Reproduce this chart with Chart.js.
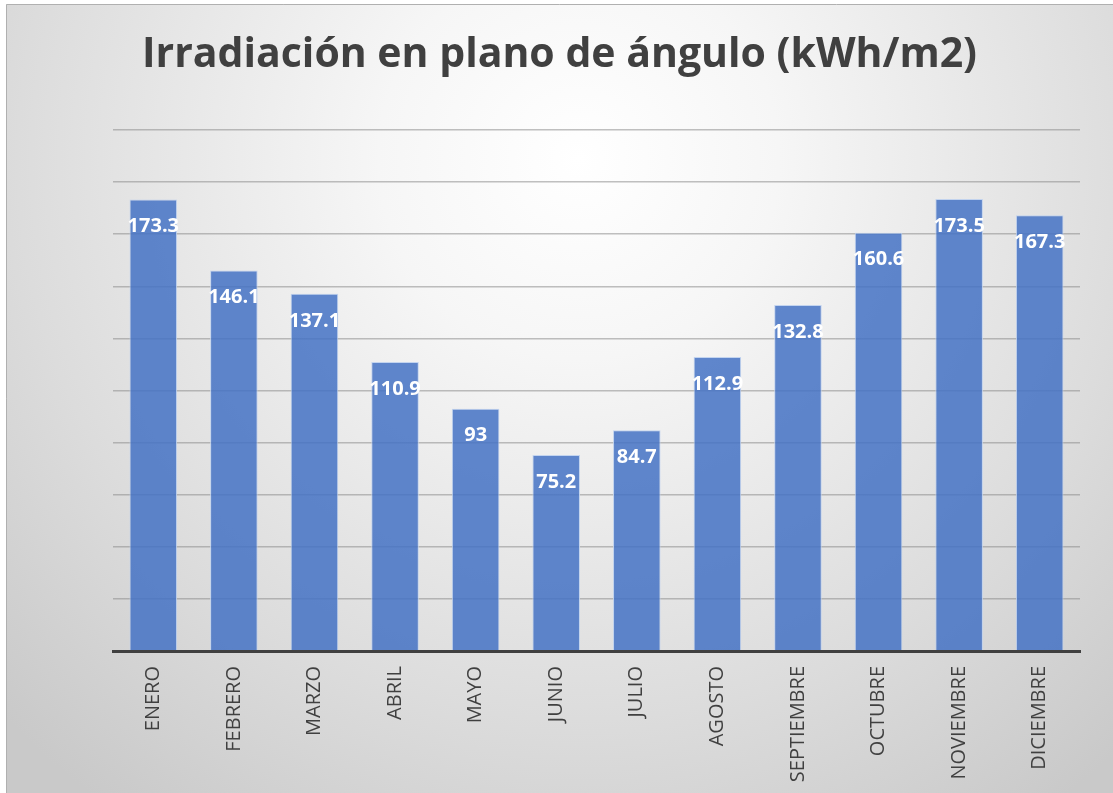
<!DOCTYPE html>
<html lang="es">
<head>
<meta charset="utf-8">
<title>Irradiación en plano de ángulo</title>
<script src="https://cdn.jsdelivr.net/npm/chart.js@4"></script>
<style>
  html, body { margin: 0; padding: 0; background: #ffffff; }
  #wrap { position: relative; width: 1113px; height: 793px; }
  canvas { display: block; }
</style>
</head>
<body>
<div id="wrap"><canvas id="chart" width="1113" height="793"></canvas></div>
<script>
// Monthly irradiation on the tilted plane (kWh/m2)
const months = ['ENERO', 'FEBRERO', 'MARZO', 'ABRIL', 'MAYO', 'JUNIO', 'JULIO',
                'AGOSTO', 'SEPTIEMBRE', 'OCTUBRE', 'NOVIEMBRE', 'DICIEMBRE'];
const irradiation = [173.3, 146.1, 137.1, 110.9, 93, 75.2, 84.7, 112.9, 132.8, 160.6, 173.5, 167.3];
const titleText = 'Irradiación en plano de ángulo (kWh/m2)';
const yMin = 0;
const yMax = 200;
const yStep = 20;

// Soft radial backdrop, thin frame and the centred title
const backdrop = {
  id: 'backdrop',
  beforeDraw(chart) {
    const { ctx, width, height } = chart;
    ctx.save();
    const g = ctx.createRadialGradient(width * 0.52, height * 0.2, 0, width * 0.52, height * 0.2, width * 0.72);
    g.addColorStop(0, '#ffffff');
    g.addColorStop(0.25, '#f6f6f6');
    g.addColorStop(0.7, '#dcdcdc');
    g.addColorStop(1, '#c9c9c9');
    ctx.fillStyle = '#ffffff';
    ctx.fillRect(0, 0, width, height);
    ctx.fillStyle = g;
    ctx.fillRect(6, 4, width - 6, height - 4);
    ctx.strokeStyle = '#b0b0b0';
    ctx.lineWidth = 1;
    ctx.beginPath();
    ctx.moveTo(6.5, height);
    ctx.lineTo(6.5, 4.5);
    ctx.lineTo(width, 4.5);
    ctx.stroke();

    ctx.font = 'bold 41px "Open Sans", sans-serif';
    ctx.fillStyle = '#404040';
    ctx.textAlign = 'center';
    ctx.textBaseline = 'middle';
    ctx.fillText(titleText, (width + 6) / 2, 55);
    ctx.restore();
  }
};

// Value labels written inside the top of each bar
const valueLabels = {
  id: 'valueLabels',
  afterDatasetsDraw(chart) {
    const { ctx } = chart;
    const meta = chart.getDatasetMeta(0);
    const data = chart.data.datasets[0].data;
    ctx.save();
    ctx.font = 'bold 20px "Open Sans", sans-serif';
    ctx.fillStyle = '#ffffff';
    ctx.textAlign = 'center';
    ctx.textBaseline = 'middle';
    meta.data.forEach((bar, i) => {
      ctx.fillText(String(data[i]), bar.x, bar.y + 27);
    });
    ctx.restore();
  }
};

new Chart(document.getElementById('chart'), {
  type: 'bar',
  data: {
    labels: months,
    datasets: [{
      data: irradiation,
      backgroundColor: 'rgba(68, 114, 196, 0.85)',
      borderColor: 'rgba(190, 208, 238, 0.9)',
      borderWidth: 1,
      borderSkipped: 'bottom',
      barPercentage: 0.59,
      categoryPercentage: 1
    }]
  },
  options: {
    responsive: false,
    animation: false,
    devicePixelRatio: 1,
    layout: { padding: { left: 113, right: 33, top: 130, bottom: 0 } },
    plugins: {
      legend: { display: false },
      tooltip: { enabled: false },
      title: { display: false }
    },
    scales: {
      x: {
        grid: { display: false, drawTicks: false },
        border: { display: true, color: '#404040', width: 3, z: 1 },
        ticks: {
          color: '#404040',
          font: { family: '"Open Sans", sans-serif', size: 20 },
          minRotation: 90,
          maxRotation: 90,
          padding: 15,
          autoSkip: false
        },
        afterFit(scale) { scale.height = 142; }
      },
      y: {
        min: yMin,
        max: yMax,
        ticks: { display: false, stepSize: yStep },
        grid: { color: 'rgba(140, 140, 140, 0.55)', lineWidth: 1.5, drawTicks: false },
        border: { display: false },
        afterFit(scale) { scale.width = 0; }
      }
    }
  },
  plugins: [backdrop, valueLabels]
});
</script>
</body>
</html>
